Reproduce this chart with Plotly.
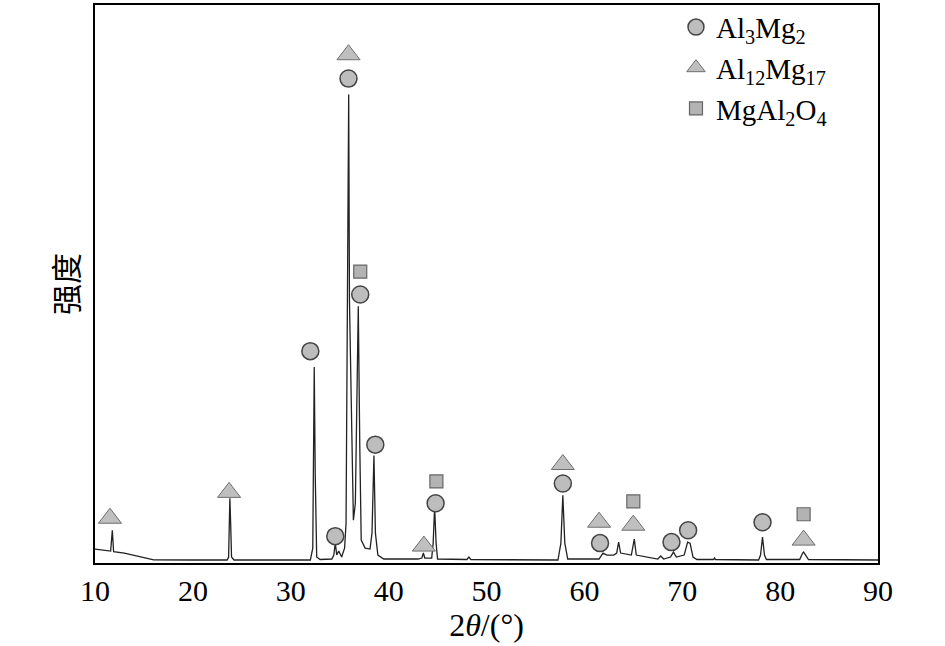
import plotly.graph_objects as go

# XRD trace (2theta, intensity in arbitrary units)
two_theta = [10.0, 11.0, 11.6, 11.77, 11.9, 13.0, 14.0, 15.0, 16.0, 20.0,
             23.5, 23.65, 23.72, 23.78, 23.86, 23.95, 24.2,
             32.0, 32.25, 32.4, 32.5, 32.65, 33.0, 34.2, 34.4, 34.55, 34.7,
             34.9, 35.2, 35.5, 35.65, 35.78, 35.92, 36.0, 36.4, 36.6, 36.77,
             36.9, 37.05, 37.2, 37.6, 38.1, 38.3, 38.5, 38.65, 38.9, 39.5,
             43.0, 43.4, 43.55, 43.7, 44.4, 44.55, 44.7, 44.85, 45.0,
             48.0, 48.2, 48.4, 57.3, 57.6, 57.8, 58.0, 58.3,
             61.5, 61.9, 62.3, 63.0, 63.3, 63.5, 63.7, 64.8, 65.1, 65.3,
             67.5, 67.8, 68.1, 68.8, 69.1, 69.4, 70.2, 70.55, 70.8, 71.1,
             71.5, 73.2, 73.3, 73.4, 77.8, 78.0, 78.2, 78.4, 78.6,
             82.0, 82.3, 82.4, 82.6, 82.9, 90.0]
intensity = [140, 130, 120, 330, 115, 100, 75, 50, 32, 30,
             30, 60, 400, 650, 400, 60, 30,
             30, 150, 1970, 900, 60, 35, 40, 80, 200, 80,
             120, 60, 150, 400, 2690, 4710, 2630, 430, 600, 1500,
             2580, 1200, 230, 150, 140, 300, 1080, 300, 80, 40,
             40, 50, 100, 50, 50, 200, 560, 200, 40,
             35, 60, 35, 30, 200, 680, 200, 40,
             40, 100, 80, 80, 100, 210, 100, 80, 240, 80,
             40, 70, 40, 60, 110, 60, 80, 210, 200, 60,
             35, 35, 50, 35, 30, 80, 260, 80, 35,
             35, 100, 110, 80, 35, 30]

# phase markers
al3mg2_x = [32.0, 34.55, 35.9, 37.1, 38.64, 44.8, 57.8, 61.6, 68.9, 70.6, 78.2]
al3mg2_y = [2130, 270, 4870, 2700, 1190, 600, 800, 200, 210, 330, 410]
al12mg17_x = [11.53, 23.7, 35.9, 43.6, 57.8, 61.5, 65.0, 82.4]
al12mg17_y = [450, 710, 5110, 170, 990, 410, 380, 230]
mgal2o4_x = [37.1, 44.88, 65.0, 82.4]
mgal2o4_y = [2930, 820, 620, 490]

serif = "Liberation Serif, Times New Roman, serif"

fig = go.Figure()

fig.add_trace(go.Scatter(x=two_theta, y=intensity, mode="lines",
                         line=dict(color="#222222", width=1.3),
                         showlegend=False, hoverinfo="skip"))

fig.add_trace(go.Scatter(x=al3mg2_x, y=al3mg2_y, mode="markers",
                         name="Al<sub>3</sub>Mg<sub>2</sub>",
                         marker=dict(symbol="circle", size=17, color="#bdbdbd",
                                     line=dict(color="#444444", width=1.5))))
fig.add_trace(go.Scatter(x=al12mg17_x, y=al12mg17_y, mode="markers",
                         name="Al<sub>12</sub>Mg<sub>17</sub>",
                         marker=dict(symbol="triangle-up", size=20, color="#bfbfbf",
                                     line=dict(color="#6e6e6e", width=1))))
fig.add_trace(go.Scatter(x=mgal2o4_x, y=mgal2o4_y, mode="markers",
                         name="MgAl<sub>2</sub>O<sub>4</sub>",
                         marker=dict(symbol="square", size=13, color="#b3b3b3",
                                     line=dict(color="#666666", width=1.2))))

fig.update_layout(
    width=945, height=646,
    margin=dict(l=95, r=67, t=2, b=83),
    plot_bgcolor="white", paper_bgcolor="white",
    font=dict(family=serif, size=30, color="black"),
    legend=dict(x=0.742, y=1.006, xanchor="left", yanchor="top",
                bgcolor="rgba(0,0,0,0)", font=dict(family=serif, size=29),
                tracegroupgap=0),
    xaxis=dict(range=[10, 90], dtick=10, ticks="", showgrid=False,
               zeroline=False, showline=True, linecolor="black", linewidth=2,
               mirror=True, tickfont=dict(family=serif, size=30),
               title=dict(text="2<i>θ</i>/(°)", standoff=6,
                          font=dict(family=serif, size=32))),
    yaxis=dict(range=[0, 5610], showticklabels=False, ticks="", showgrid=False,
               zeroline=False, showline=True, linecolor="black", linewidth=2,
               mirror=True,
               title=dict(text="强度", standoff=5,
                          font=dict(family="Noto Sans CJK SC", size=31))),
)

fig.write_html("out.html", config={"displayModeBar": False},
               post_script="document.body.style.margin='0px';")
